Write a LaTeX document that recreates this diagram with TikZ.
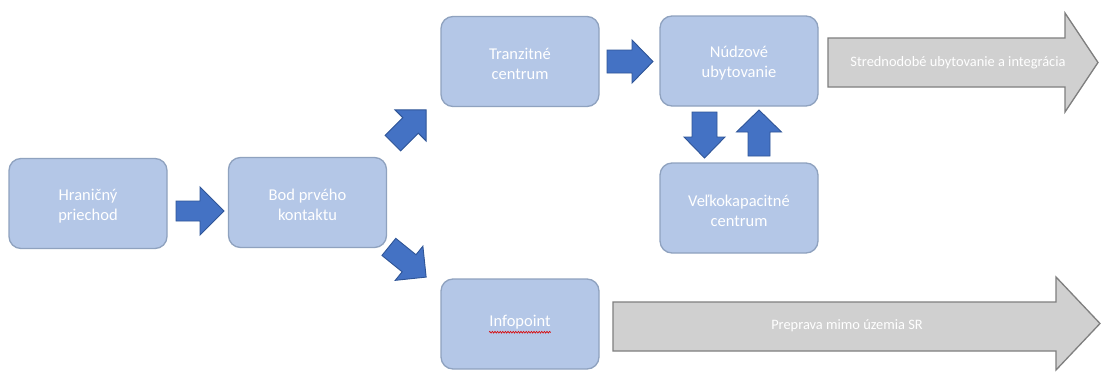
\documentclass[tikz,border=0pt]{standalone}
\usepackage{fontspec}
\setmainfont{Carlito}
\usetikzlibrary{decorations.pathmorphing}
\definecolor{boxfill}{HTML}{B4C7E7}
\definecolor{boxline}{HTML}{8FA2BF}
\definecolor{arrfill}{HTML}{4472C4}
\definecolor{arrline}{HTML}{2F5597}
\definecolor{greyfill}{HTML}{D0D0D0}
\definecolor{greyline}{HTML}{7F7F7F}
\tikzset{
  stepbox/.style={draw=boxline, line width=1.3pt, fill=boxfill, rounded corners=12pt,
    minimum width=158pt, minimum height=90pt, inner sep=0pt},
  boxtext/.style={align=center, text=white,
    font=\fontsize{16.5}{20}\selectfont, inner sep=0pt},
  bluearr/.style={draw=arrline, line width=0.9pt, fill=arrfill},
  greyarr/.style={draw=greyline, line width=1.3pt, fill=greyfill},
  greytext/.style={text=white, font=\fontsize{14.4}{17}\selectfont, inner sep=0pt},
  pics/blockarr/.style args={#1/#2/#3/#4}{code={
    % #1 total length, #2 head length, #3 body half width, #4 head half width
    \draw[bluearr] (-#1/2,-#3) -- (#1/2-#2,-#3) -- (#1/2-#2,-#4) -- (#1/2,0)
      -- (#1/2-#2,#4) -- (#1/2-#2,#3) -- (-#1/2,#3) -- cycle;
  }}
}
\begin{document}
\begin{tikzpicture}[x=1pt,y=-1pt]
\useasboundingbox[fill=white] (0,0) rectangle (1102,372);

% boxes
\node[stepbox] (hp) at (88,203.5) {};
\node[stepbox] (bpk) at (307.5,202.5) {};
\node[stepbox] (tc) at (520,61.5) {};
\node[stepbox] (nu) at (739,61) {};
\node[stepbox] (vc) at (739,208) {};
\node[stepbox] (ip) at (520,324) {};

\node[boxtext] (hpt) at ([yshift=-2.5pt]hp.center) {Hraničný\\priechod};
\node[boxtext] (bpkt) at ([yshift=-2.5pt]bpk.center) {Bod prvého\\kontaktu};
\node[boxtext] (tct) at ([yshift=-2.5pt]tc.center) {Tranzitné\\centrum};
\node[boxtext] (nut) at ([yshift=-2.5pt]nu.center) {Núdzové\\ubytovanie};
\node[boxtext] (vct) at ([yshift=-2.5pt]vc.center) {Veľkokapacitné\\centrum};

% blue block arrows
\pic at (200,211) {blockarr={48/24/10/24}};
\pic[rotate=45] at (409.5,126.5) {blockarr={47/22/11/22}};
\pic[rotate=-39] at (407.5,262) {blockarr={48/22/11/22}};
\pic at (630,61.5) {blockarr={46/21/11.5/21.5}};
\pic[rotate=-90] at (704.5,135) {blockarr={46/21/12.5/20.5}};
\pic[rotate=90] at (759,133) {blockarr={46/22/11/22.5}};

% grey block arrows
\draw[greyarr] (828,38) -- (1065,38) -- (1065,13) -- (1098,62.5) -- (1065,112)
  -- (1065,87) -- (828,87) -- cycle;
\node[greytext] (smi) at (958,62.5) {Strednodobé ubytovanie a integrácia};

\draw[greyarr] (613,302) -- (1056,302) -- (1056,277) -- (1100,323.5) -- (1056,370)
  -- (1056,351) -- (613,351) -- cycle;
\node[greytext] (pre) at (847,326) {Preprava mimo územia SR};

% Infopoint label with spell-check underline
\node[boxtext] (iptext) at (520,322) {Infopoint};
\draw[red!85!black, line width=0.6pt, decorate,
  decoration={zigzag, amplitude=0.9pt, segment length=2.6pt}]
  ([yshift=-3pt]iptext.south west) -- ([yshift=-3pt]iptext.south east);
\end{tikzpicture}
\end{document}
